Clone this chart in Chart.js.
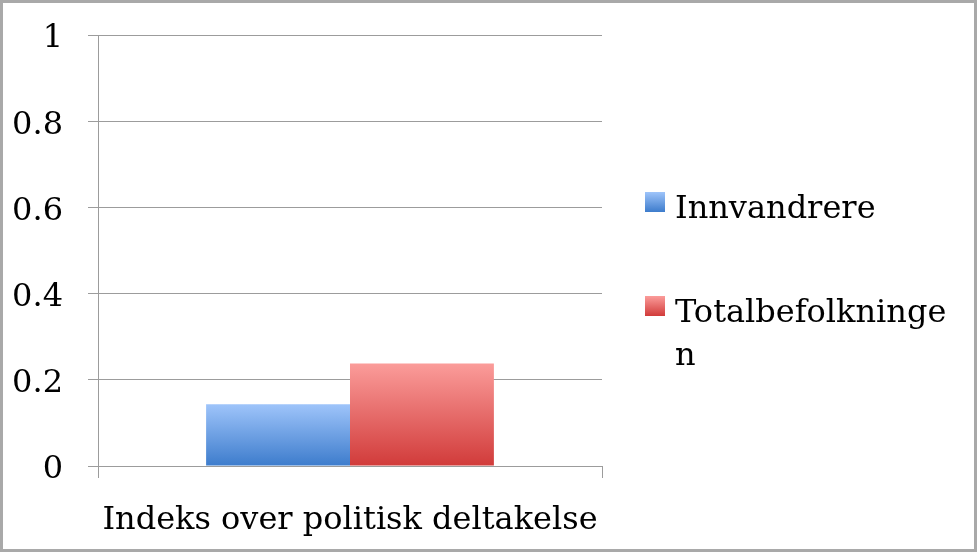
<!DOCTYPE html>
<html><head><meta charset="utf-8">
<script src="https://cdn.jsdelivr.net/npm/chart.js@4.4.1/dist/chart.umd.min.js"></script>
<style>html,body{margin:0;padding:0;background:#fff;}#wrap{width:977px;height:552px;position:relative;}</style>
</head><body><div id="wrap"><canvas id="c" width="977" height="552"></canvas></div>
<script>
const categories = ["Indeks over politisk deltakelse"];
const seriesNames = ["Innvandrere", "Totalbefolkningen"];
const innvandrere = [0.143];
const totalbefolkningen = [0.238];
const yTicks = [0, 0.2, 0.4, 0.6, 0.8, 1];

const FONT = "'DejaVu Serif', 'Liberation Serif', serif";
const FSIZE = 32;
const gradStops = [["#9ec4fa", "#3d7ccc"], ["#fb9c9a", "#d13b3a"]];

function barGradient(ctx, i) {
  const chart = ctx.chart;
  const area = chart.chartArea;
  if (!area) return gradStops[i][1];
  const y = chart.scales.y;
  const v = ctx.raw;
  const top = y.getPixelForValue(v), bottom = y.getPixelForValue(0);
  if (!isFinite(top) || !isFinite(bottom) || top === bottom) return gradStops[i][1];
  const g = chart.ctx.createLinearGradient(0, top, 0, bottom);
  g.addColorStop(0, gradStops[i][0]);
  g.addColorStop(1, gradStops[i][1]);
  return g;
}

const framePlugin = {
  id: 'frame',
  beforeDraw(chart) {
    const c = chart.ctx;
    c.save(); c.fillStyle = '#fff'; c.fillRect(0, 0, chart.width, chart.height); c.restore();
  },
  afterDraw(chart) {
    const c = chart.ctx;
    c.save();
    c.strokeStyle = '#a9a9a9'; c.lineWidth = 3;
    c.strokeRect(1.5, 1.5, chart.width - 3, chart.height - 3);
    c.font = FSIZE + "px " + FONT;
    c.fillStyle = '#000';
    c.textBaseline = 'alphabetic';
    const maxW = 285;
    const starts = [192, 296];
    chart.data.datasets.forEach((ds, i) => {
      const sy = starts[i];
      const g = c.createLinearGradient(0, sy, 0, sy + 20);
      g.addColorStop(0, gradStops[i][0]); g.addColorStop(1, gradStops[i][1]);
      c.fillStyle = g;
      c.fillRect(645, sy, 20, 20);
      c.fillStyle = '#000';
      const lines = [];
      let cur = '';
      for (const ch of ds.label) {
        if (c.measureText(cur + ch).width > maxW && cur) { lines.push(cur); cur = ch; }
        else cur += ch;
      }
      lines.push(cur);
      lines.forEach((ln, k) => c.fillText(ln, 675, sy + 26 + k * 43));
    });
    c.restore();
  }
};

new Chart(document.getElementById('c'), {
  type: 'bar',
  data: {
    labels: categories,
    datasets: [
      { label: seriesNames[0], data: innvandrere, backgroundColor: (ctx) => barGradient(ctx, 0) },
      { label: seriesNames[1], data: totalbefolkningen, backgroundColor: (ctx) => barGradient(ctx, 1) }
    ]
  },
  options: {
    responsive: false,
    animation: false,
    devicePixelRatio: 1,
    categoryPercentage: 0.571,
    barPercentage: 1,
    layout: { padding: { left: 0, right: 375, top: 35, bottom: 0 } },
    plugins: { legend: { display: false }, tooltip: { enabled: false } },
    scales: {
      y: {
        min: 0, max: 1,
        afterFit(s) { s.width = 98; s.paddingTop = 0; s.paddingBottom = 0; },
        afterBuildTicks(s) { s.ticks = yTicks.map(v => ({ value: v })); },
        ticks: { color: '#000', font: { family: FONT, size: FSIZE }, padding: 25, labelOffset: 4,
          callback: (v) => String(v) },
        grid: { color: '#9c9c9c', lineWidth: 1, tickLength: 10, drawTicks: true },
        border: { display: true, color: '#9c9c9c', width: 1 }
      },
      x: {
        afterFit(s) { s.height = 86; s.paddingLeft = 0; s.paddingRight = 0; },
        ticks: { color: '#000', font: { family: FONT, size: FSIZE }, padding: 23, maxRotation: 0 },
        grid: { offset: true, drawOnChartArea: false, drawTicks: true, tickLength: 12, color: '#9c9c9c', lineWidth: 1 },
        border: { display: true, color: '#9c9c9c', width: 1 }
      }
    }
  },
  plugins: [framePlugin]
});
</script></body></html>
